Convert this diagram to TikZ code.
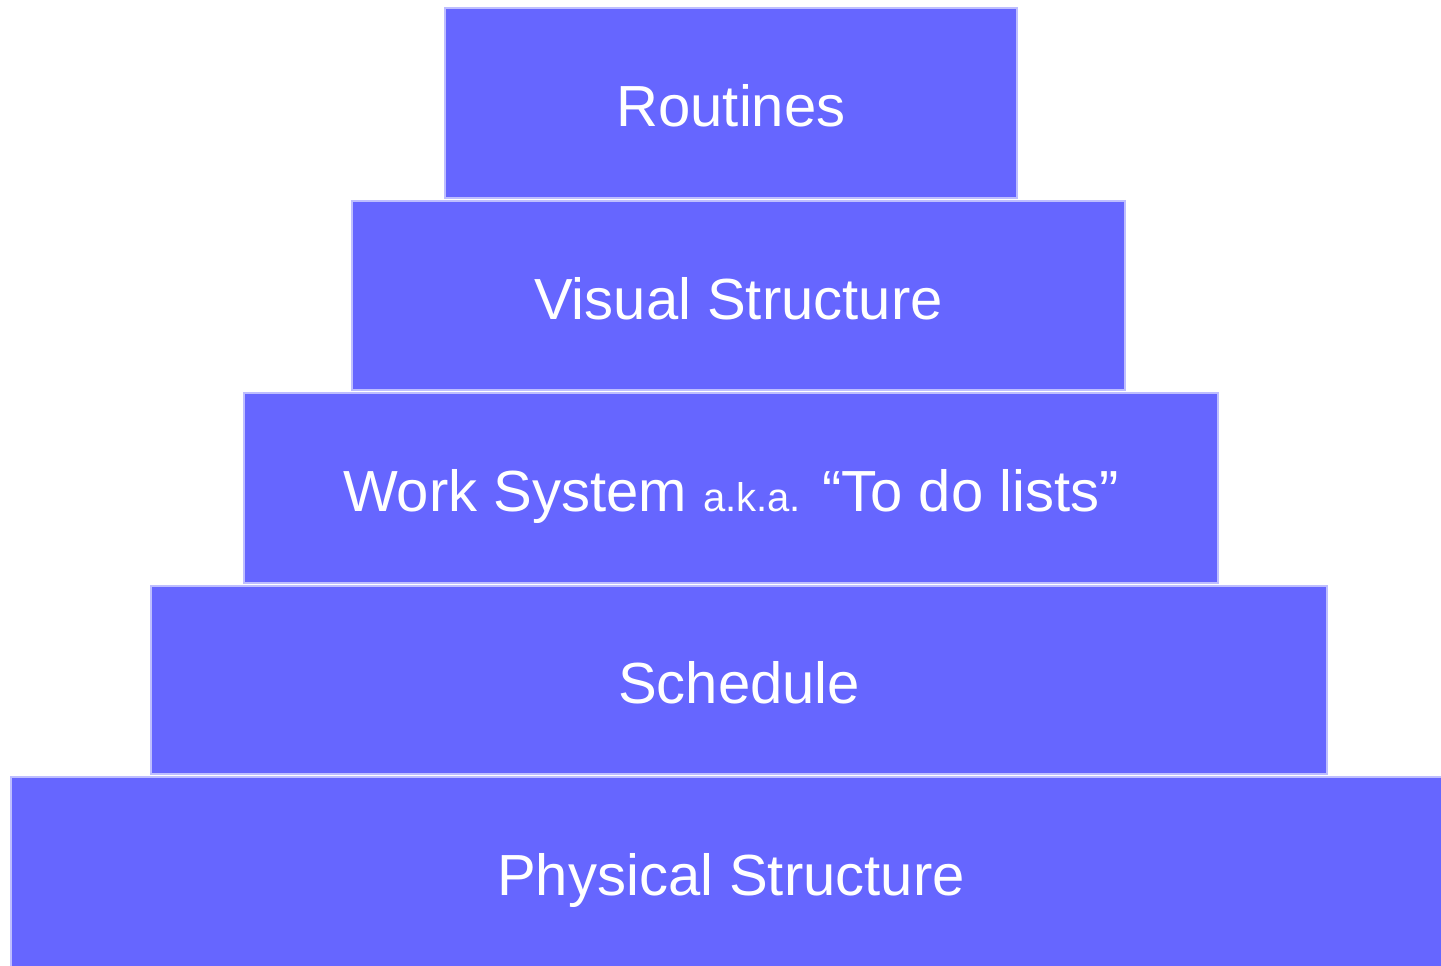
\documentclass[tikz,border=0pt]{standalone}
\usepackage{fontspec}
\setmainfont{Liberation Sans}
\usetikzlibrary{positioning}
\definecolor{tierFill}{RGB}{102,102,255}
\definecolor{tierEdge}{RGB}{190,190,255}

\begin{document}
\begin{tikzpicture}[x=0.5pt, y=-0.5pt,
  tier/.style={rectangle, fill=tierFill, draw=tierEdge, line width=0.7pt, inner sep=0pt,
    text=white, text height=23.5pt, text depth=0pt, font=\fontsize{29}{34}\selectfont}]
  \useasboundingbox (0,0) rectangle (1441,965);
  % five steps, widest at the bottom
  \node[tier, minimum width=286pt, minimum height=95pt] (routines) at (731,103) {Routines};
  \node[tier, minimum width=386.5pt, minimum height=94.5pt] (visual) at (738.5,295.5) {Visual Structure};
  \node[tier, minimum width=487pt, minimum height=95pt] (work) at (731,488)
    {Work System {\fontsize{20}{24}\selectfont a.k.a.} “To do lists”};
  \node[tier, minimum width=588pt, minimum height=94pt] (schedule) at (739,680) {Schedule};
  \node[tier, minimum width=720pt, minimum height=95pt] (physical) at (731,872) {Physical Structure};
\end{tikzpicture}
\end{document}
